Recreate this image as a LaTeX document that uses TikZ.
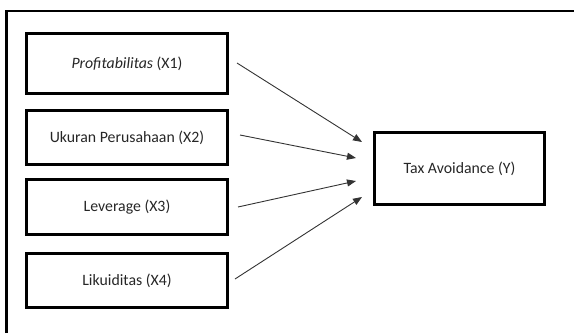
\documentclass[tikz,border=0pt]{standalone}
\usepackage{fontspec}
\setmainfont{Carlito}
\usetikzlibrary{arrows.meta}
\begin{document}
\begin{tikzpicture}[x=1pt,y=-1pt,
  varbox/.style={draw=black,line width=2.6pt,minimum width=201pt,inner sep=0pt,font=\fontsize{15.8}{18}\selectfont,text=black!85},
  arr/.style={draw=black!80,line width=0.9pt,-{Triangle[length=9pt,width=7pt]}},
  frame/.style={draw=black,line width=2.6pt}]
\useasboundingbox (0,0) rectangle (574,333);
\draw[frame] (6.5,333) -- (6.5,11) -- (574,11);
\node[varbox,minimum height=60pt] (b1) at (127,63.5) {\textit{Profitabilitas} (X1)};
\node[varbox,minimum height=54pt] (b2) at (127,137.5) {Ukuran Perusahaan (X2)};
\node[varbox,minimum height=55pt] (b3) at (127,207) {Leverage (X3)};
\node[varbox,minimum height=54pt] (b4) at (127,280.5) {Likuiditas (X4)};
\node[varbox,minimum width=170pt,minimum height=72pt] (y) at (459.5,168.5) {Tax Avoidance (Y)};
\coordinate (s1) at (237,63);
\coordinate (s2) at (240,135);
\coordinate (s3) at (238,207);
\coordinate (s4) at (235,279);
\coordinate (t1) at (362,142);
\coordinate (t2) at (356,158);
\coordinate (t3) at (356,181);
\coordinate (t4) at (362,197);
\draw[arr] (s1) -- (t1);
\draw[arr] (s2) -- (t2);
\draw[arr] (s3) -- (t3);
\draw[arr] (s4) -- (t4);
\end{tikzpicture}
\end{document}
